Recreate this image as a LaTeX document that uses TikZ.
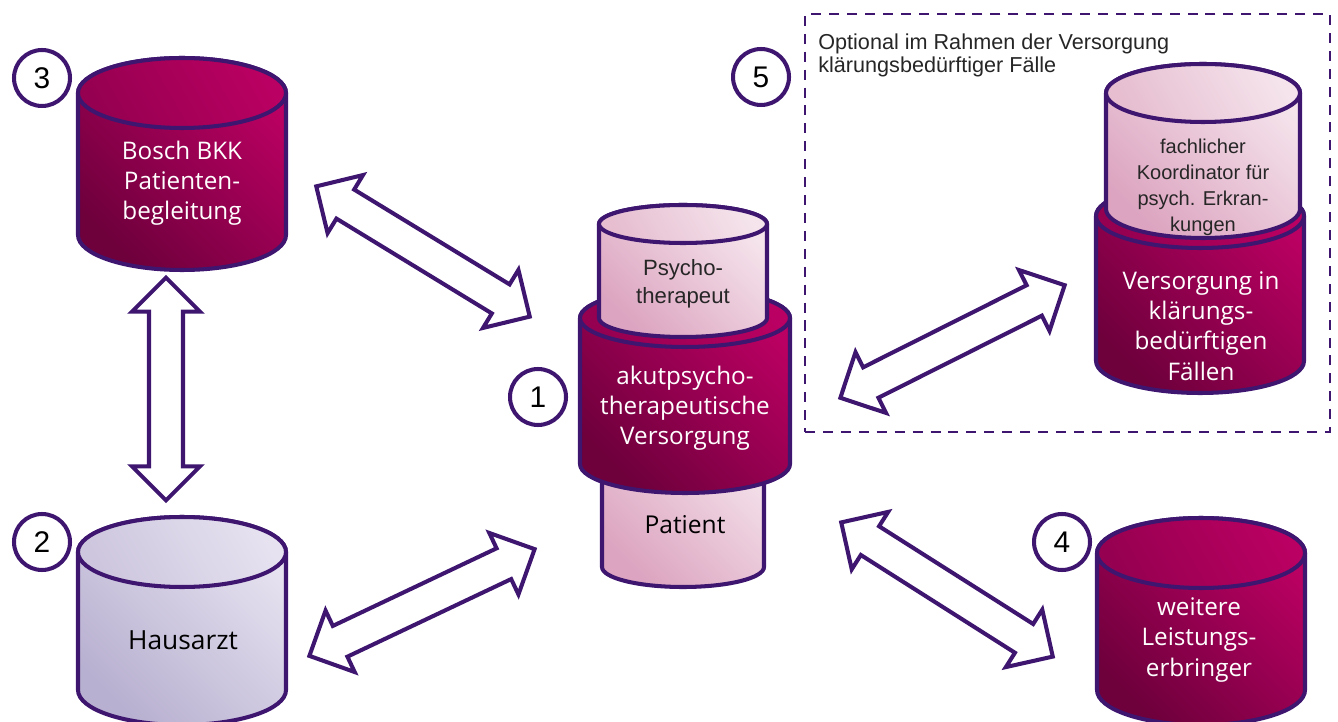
\documentclass[tikz,border=0pt]{standalone}
\usepackage{fontspec}
\setmainfont{Liberation Sans}
\newfontfamily\boschfont{Open Sans}
\usetikzlibrary{calc,shapes.arrows}
\definecolor{edge}{RGB}{62,22,112}
\definecolor{magdark}{RGB}{110,0,60}
\definecolor{magmid}{RGB}{150,0,80}
\definecolor{magbright}{RGB}{186,0,98}
\definecolor{pinkdark}{RGB}{220,164,192}
\definecolor{pinkmid}{RGB}{230,190,208}
\definecolor{pinkbright}{RGB}{245,228,236}
\definecolor{lavdark}{RGB}{184,176,208}
\definecolor{lavmid}{RGB}{205,198,222}
\definecolor{lavbright}{RGB}{230,226,240}
\tikzset{
  darkdrum/.style={draw=edge, line width=2.3pt, bottom color=magdark, top color=magbright, shading angle=-45},
  darkdrumtop/.style={draw=edge, line width=2.3pt, bottom color=magmid, top color=magbright, shading angle=-60},
  lightdrum/.style={draw=edge, line width=2.3pt, bottom color=pinkdark, top color=pinkbright, shading angle=-45},
  lightdrumtop/.style={draw=edge, line width=2.3pt, bottom color=pinkmid, top color=pinkbright, shading angle=-60},
  lavdrum/.style={draw=edge, line width=2.3pt, bottom color=lavdark, top color=lavbright, shading angle=-45},
  lavdrumtop/.style={draw=edge, line width=2.3pt, bottom color=lavmid, top color=lavbright, shading angle=-60},
  whitetext/.style={text=white, align=center, inner sep=0pt, font=\boschfont\fontsize{13.8}{17.2}\selectfont},
  blacktext/.style={text=black, align=center, inner sep=0pt, font=\boschfont\fontsize{14}{17}\selectfont},
  midtext/.style={text=black!85, align=center, inner sep=0pt, font=\fontsize{12.6}{15.8}\selectfont},
  smalltext/.style={text=black!85, align=center, inner sep=0pt, font=\fontsize{11.4}{14.8}\selectfont},
  optnote/.style={text=black!85, align=left, inner sep=0pt, font=\fontsize{12.3}{13.1}\selectfont},
  optframe/.style={draw=edge, line width=1.4pt, dash pattern=on 5.7pt off 4.5pt},
  numring/.style={circle, draw=edge, line width=2.3pt, fill=white, minimum size=1.12cm, inner sep=0pt, font=\fontsize{17}{20}\selectfont},
  hollowarrow/.style={double arrow, draw=edge, line width=2.3pt, fill=white, inner xsep=0pt, inner ysep=0.3cm, outer sep=0pt, double arrow head extend=0.34cm, double arrow tip angle=90}
}
% name, cx, top y, bottom y, rx, ry, style
\newcommand{\drum}[7]{%
  \path[#7] ({#2-#5},{-#3}) -- ({#2-#5},{-#4}) arc[start angle=180, end angle=360, x radius=#5, y radius=#6]
    -- ({#2+#5},{-#3}) arc[start angle=0, end angle=180, x radius=#5, y radius=#6] -- cycle;
  \path[#7top] (#2,{-#3}) ellipse[x radius=#5, y radius=#6];
  \coordinate (#1) at (#2,{-(#3+#4)/2});
}

\begin{document}
\begin{tikzpicture}[x=0.02cm, y=0.02cm]
\useasboundingbox (0,0) rectangle (1338,-722);

% optional part
\node[optframe, minimum width=10.5cm, minimum height=8.36cm] (opt) at (1067.5,-223) {};
\node[optnote, anchor=north west] (optlbl) at (818,-33) {Optional im Rahmen der Versorgung\\klärungsbedürftiger Fälle};

% drums
\drum{bkk}{182}{93}{235}{104}{35}{darkdrum}
\drum{gp}{182}{552}{690}{104}{35}{lavdrum}
\drum{more}{1201}{553}{690}{104}{35}{darkdrum}
\drum{clar}{1200}{216}{361}{104}{32}{darkdrum}
\drum{coord}{1203}{93}{209}{97}{29}{lightdrum}
\drum{pat}{683}{440}{567}{81}{20}{lightdrum}
\drum{acute}{685}{318}{464}{105}{29}{darkdrum}
\drum{psy}{683}{224}{318}{84}{19}{lightdrum}

% labels
\node[whitetext] (bkklbl) at (182,-183) {Bosch BKK\\Patienten-\\begleitung};
\node[blacktext, font=\boschfont\fontsize{15}{18}\selectfont] (gplbl) at (183,-640) {Hausarzt};
\node[whitetext] (morelbl) at (1199,-640) {weitere\\Leistungs-\\erbringer};
\node[whitetext] (clarlbl) at (1201,-326) {Versorgung in\\klärungs-\\bedürftigen\\Fällen};
\node[smalltext] (coordlbl) at (1203,-187) {fachlicher\\Koordinator für\\psych. Erkran-\\kungen};
\node[blacktext] (patlbl) at (685,-525) {Patient};
\node[whitetext] (acutelbl) at (685,-408) {akutpsycho-\\therapeutische\\Versorgung};
\node[midtext] (psylbl) at (683,-284) {Psycho-\\therapeut};

% numbers
\node[numring] (n1) at (538,-397) {1};
\node[numring] (n2) at (42,-542) {2};
\node[numring] (n3) at (42,-78) {3};
\node[numring] (n4) at (1062,-542) {4};
\node[numring] (n5) at (761,-77) {5};

% arrow ends
\coordinate (e31a) at (314,-185);  \coordinate (e31b) at (532,-318);
\coordinate (e32a) at (166,-275);  \coordinate (e32b) at (166,-503);
\coordinate (e21a) at (307,-657);  \coordinate (e21b) at (537,-548);
\coordinate (e15a) at (838,-399);  \coordinate (e15b) at (1067,-284);
\coordinate (e14a) at (839,-521);  \coordinate (e14b) at (1055,-658);

\foreach \s/\t in {e31a/e31b, e32a/e32b, e21a/e21b, e15a/e15b, e14a/e14b}
  \path let \p1=($(\t)-(\s)$), \n1={atan2(\y1,\x1)}, \n2={veclen(\x1,\y1)} in
    node[hollowarrow, rotate=\n1, minimum height=\n2-3pt] at ($(\s)!0.5!(\t)$) {};
\end{tikzpicture}
\end{document}
